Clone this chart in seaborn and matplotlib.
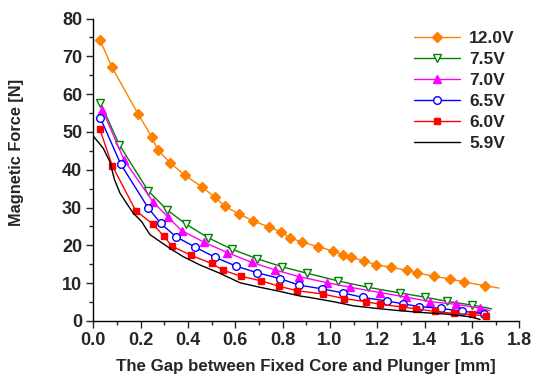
import matplotlib
matplotlib.use("Agg")
import matplotlib.pyplot as plt
from matplotlib.ticker import MultipleLocator
import seaborn as sns
import pandas as pd

# === Data ===
x_12v = [0.028, 0.079, 0.189, 0.247, 0.272, 0.325, 0.386, 0.458, 0.513, 0.556, 0.614, 0.673,
         0.742, 0.794, 0.831, 0.880, 0.951, 1.013, 1.056, 1.089, 1.144, 1.193, 1.258, 1.325,
         1.368, 1.441, 1.507, 1.566, 1.656, 1.714]
y_12v = [74.4, 67.1, 54.8, 48.7, 45.3, 41.8, 38.6, 35.5, 32.8, 30.3, 28.4, 26.5,
         24.9, 23.5, 22.0, 20.9, 19.6, 18.5, 17.5, 16.8, 15.9, 14.9, 14.2, 13.4,
         12.7, 11.8, 11.1, 10.3, 9.3, 8.7]

x_7v5 = [0.030, 0.110, 0.231, 0.311, 0.392, 0.485, 0.585, 0.690, 0.799, 0.904, 1.033, 1.159,
         1.296, 1.400, 1.493, 1.600, 1.683]
y_7v5 = [57.7, 46.6, 34.5, 29.4, 25.6, 22.0, 19.0, 16.5, 14.3, 12.6, 10.6, 8.9,
         7.4, 6.3, 5.2, 4.2, 3.2]

x_7v0 = [0.038, 0.131, 0.254, 0.317, 0.373, 0.469, 0.566, 0.669, 0.768, 0.870, 0.989, 1.085,
         1.213, 1.321, 1.423, 1.531, 1.634, 1.676]
y_7v0 = [55.9, 42.5, 31.4, 27.4, 23.9, 20.8, 18.1, 15.5, 13.5, 11.7, 10.1, 8.9,
         7.5, 6.3, 5.1, 4.4, 3.4, 2.7]

x_6v5 = [0.030, 0.116, 0.231, 0.285, 0.349, 0.431, 0.513, 0.603, 0.690, 0.788, 0.868, 0.965,
         1.056, 1.141, 1.240, 1.310, 1.376, 1.468, 1.556, 1.649, 1.670]
y_6v5 = [53.7, 41.5, 30.0, 25.8, 22.3, 19.5, 16.9, 14.5, 12.8, 11.2, 9.5, 8.5,
         7.4, 6.2, 5.3, 4.5, 3.8, 3.3, 2.6, 1.9, 1.6]

x_6v0 = [0.028, 0.080, 0.179, 0.252, 0.297, 0.332, 0.411, 0.500, 0.549, 0.625, 0.710, 0.783,
         0.861, 0.972, 1.059, 1.151, 1.211, 1.303, 1.365, 1.444, 1.523, 1.599, 1.658]
y_6v0 = [50.7, 41.1, 29.2, 25.6, 22.5, 19.8, 17.4, 15.2, 13.4, 11.8, 10.6, 9.2,
         8.0, 7.1, 5.9, 5.1, 4.4, 3.7, 3.2, 2.5, 2.0, 1.7, 1.3]

x_5v9 = [0.0, 0.042, 0.071, 0.089, 0.113, 0.141, 0.169, 0.204, 0.240, 0.282, 0.324, 0.380,
         0.451, 0.535, 0.620, 0.704, 0.789, 0.873, 0.915, 1.014, 1.099, 1.197, 1.296, 1.394,
         1.493, 1.592, 1.634]
y_5v9 = [48.9, 45.7, 42.0, 37.5, 33.8, 31.1, 28.5, 26.3, 22.8, 21.0, 19.2, 17.0,
         14.8, 12.6, 10.1, 8.9, 7.8, 6.6, 6.2, 5.1, 4.0, 3.3, 2.7, 2.2,
         1.8, 1.1, 0.4]

series = [
    ("12.0V", x_12v, y_12v, "#FF8000", "D", "#FF8000", 5.0),
    ("7.5V", x_7v5, y_7v5, "#008000", "v", "white", 6.0),
    ("7.0V", x_7v0, y_7v0, "#FF00FF", "^", "#FF00FF", 6.0),
    ("6.5V", x_6v5, y_6v5, "#0000FF", "o", "white", 5.5),
    ("6.0V", x_6v0, y_6v0, "#FF0000", "s", "#FF0000", 5.0),
    ("5.9V", x_5v9, y_5v9, "black", None, None, 0),
]

# === Plot ===
sns.set_style("ticks")
plt.rcParams["font.family"] = ["Liberation Sans", "DejaVu Sans"]
plt.rcParams["font.weight"] = "bold"

fig = plt.figure(figsize=(5.39, 3.78), dpi=100)
ax = fig.add_axes([0.173, 0.151, 0.7905, 0.8])

for label, xs, ys, color, marker, mfc, ms in series:
    df = pd.DataFrame({"x": xs, "y": ys})
    kw = dict(color=color, linewidth=1.0, label=label, sort=False, ax=ax)
    if marker:
        n = len(xs)
        # last point of some curves carries no marker
        last = n - 1 if label in ("12.0V", "7.5V", "7.0V", "6.5V") else n
        kw.update(marker=marker, markersize=ms, markerfacecolor=mfc,
                  markeredgecolor=color, markeredgewidth=1.0,
                  markevery=list(range(last)))
    sns.lineplot(data=df, x="x", y="y", **kw)

ax.set_xlim(0, 1.8)
ax.set_ylim(0, 80)
ax.xaxis.set_major_locator(MultipleLocator(0.2))
ax.xaxis.set_minor_locator(MultipleLocator(0.1))
ax.yaxis.set_major_locator(MultipleLocator(10))
ax.yaxis.set_minor_locator(MultipleLocator(5))
ax.tick_params(which="major", direction="out", length=5, width=1, labelsize=13, pad=3)
ax.tick_params(which="minor", direction="out", length=3, width=1)
for lab in ax.get_xticklabels() + ax.get_yticklabels():
    lab.set_fontweight("bold")
sns.despine(ax=ax)
for s in ("left", "bottom"):
    ax.spines[s].set_linewidth(1.0)
    ax.spines[s].set_color("black")

ax.set_xlabel("The Gap between Fixed Core and Plunger [mm]", fontsize=12.2,
              fontweight="bold", labelpad=7)
ax.set_ylabel("Magnetic Force [N]", fontsize=11.8, fontweight="bold")
ax.yaxis.set_label_coords(-0.163, 0.558)

leg = ax.legend(loc="upper right", bbox_to_anchor=(1.026, 1.01), frameon=False,
                fontsize=12.5, handlelength=2.7, numpoints=1, labelspacing=0.33,
                handletextpad=0.5)
for t in leg.get_texts():
    t.set_fontweight("bold")

fig.savefig("out.png", dpi=100)
plt.close(fig)
